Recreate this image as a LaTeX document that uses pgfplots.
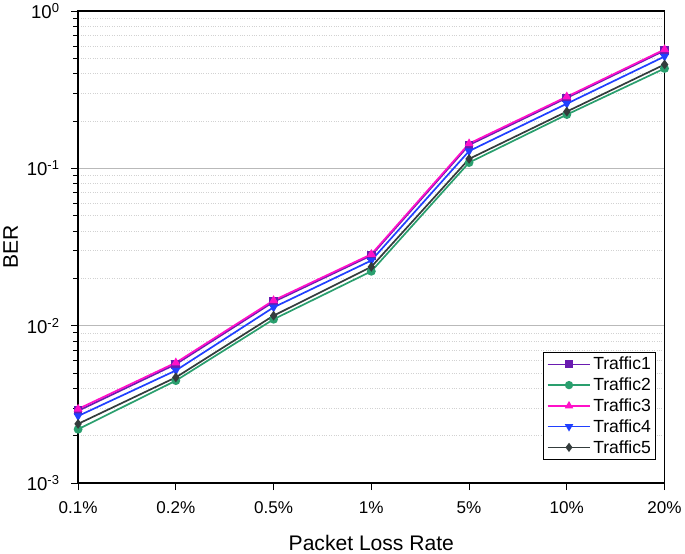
\documentclass[border=0pt]{standalone}
\usepackage{fontspec}
\setmainfont{Liberation Sans}
\usepackage{pgfplots}
\pgfplotsset{compat=1.18}
\definecolor{c1}{HTML}{6A1BB0}
\definecolor{c2}{HTML}{2A9F6E}
\definecolor{c3}{HTML}{FF10C8}
\definecolor{c4}{HTML}{2040FF}
\definecolor{c5}{HTML}{343C3C}
\begin{document}
\begin{tikzpicture}
\begin{axis}[
  scale only axis, width=584pt, height=470pt,
  ymode=log, ymin=1e-3, ymax=1,
  xmin=0, xmax=6,
  xtick={0,1,2,3,4,5,6},
  xticklabels={0.1\%,0.2\%,0.5\%,1\%,5\%,10\%,20\%},
  ytick={1e-3,1e-2,1e-1,1},
  yticklabels={10\textsuperscript{-3},10\textsuperscript{-2},10\textsuperscript{-1},10\textsuperscript{0}},
  tick label style={font=\fontsize{17}{19}\selectfont},
  yticklabel style={font=\fontsize{18.5}{20}\selectfont, xshift=-8pt},
  xticklabel style={yshift=-8pt},
  xlabel={Packet Loss Rate}, ylabel={BER},
  label style={font=\fontsize{21}{24}\selectfont},
  xlabel style={yshift=-14pt},
  ylabel style={yshift=2pt},
  axis line style={line width=1.3pt},
  tick style={black, line width=1pt},
  major tick length=7pt, minor tick length=5pt,
  tick align=outside,
  xtick pos=bottom, ytick pos=left,
  ymajorgrids, yminorgrids,
  major grid style={gray!55, line width=0.8pt},
  minor grid style={gray!35, dotted, line width=0.8pt},
  legend style={at={(0.986,0.049)}, anchor=south east, draw=black, line width=0.9pt,
    font=\fontsize{17.5}{19}\selectfont, row sep=2.5pt, inner sep=3pt},
  legend cell align=left,
  legend image code/.code={\draw[line width=1.6pt, mark size=3.3pt, mark repeat=2, mark phase=2] plot coordinates {(0cm,0cm)(0.75cm,0cm)(1.5cm,0cm)};},
  every axis plot/.append style={line width=1.7pt, mark size=3.5pt},
]
\addplot[c1, mark=square*] coordinates {(0,2.88e-3)(1,5.7e-3)(2,1.42e-2)(3,2.8e-2)(4,0.141)(5,0.281)(6,0.562)};
\addlegendentry{Traffic1}
\addplot[c2, mark=*] coordinates {(0,2.2e-3)(1,4.48e-3)(2,1.1e-2)(3,2.22e-2)(4,0.109)(5,0.22)(6,0.432)};
\addlegendentry{Traffic2}
\addplot[c3, mark=triangle*] coordinates {(0,2.96e-3)(1,5.83e-3)(2,1.45e-2)(3,2.85e-2)(4,0.144)(5,0.286)(6,0.571)};
\addlegendentry{Traffic3}
\addplot[c4, mark=triangle*, mark options={rotate=180}] coordinates {(0,2.67e-3)(1,5.2e-3)(2,1.31e-2)(3,2.6e-2)(4,0.129)(5,0.258)(6,0.515)};
\addlegendentry{Traffic4}
\addplot[c5, mark=diamond*] coordinates {(0,2.38e-3)(1,4.7e-3)(2,1.16e-2)(3,2.37e-2)(4,0.115)(5,0.23)(6,0.458)};
\addlegendentry{Traffic5}
\end{axis}
\end{tikzpicture}
\end{document}
